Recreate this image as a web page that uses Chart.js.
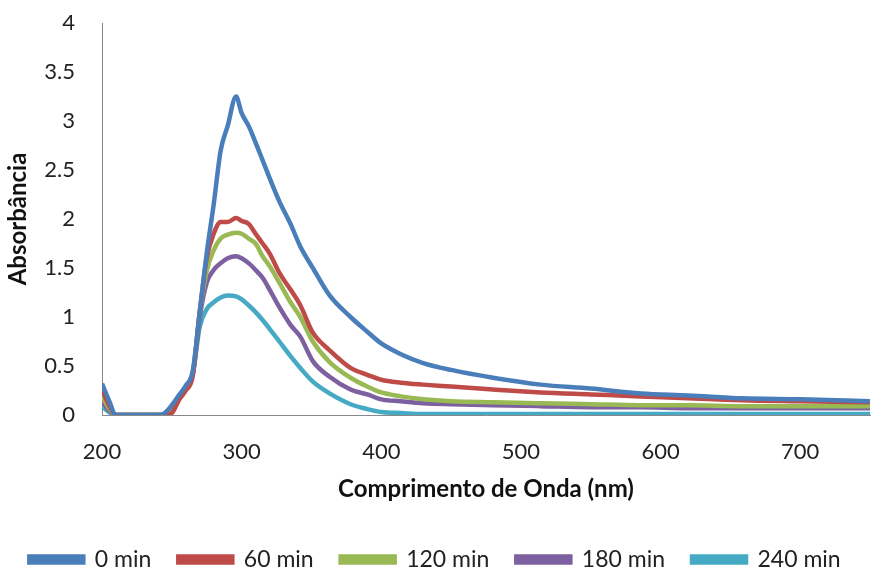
<!DOCTYPE html>
<html>
<head>
<meta charset="utf-8">
<script src="https://cdn.jsdelivr.net/npm/chart.js@4/dist/chart.umd.min.js"></script>
<style>
  html, body { margin: 0; padding: 0; background: #fff; }
  #chart { display: block; }
</style>
</head>
<body>
<canvas id="chart" width="871" height="572"></canvas>
<script>
const wavelengths = [200, 205, 210, 220, 240, 245, 250, 255, 260, 265, 270, 275, 280, 285, 290, 296, 300, 305, 310, 315, 320, 327, 335, 342, 351, 363, 378, 390, 400, 414, 430, 450, 480, 514, 550, 586, 620, 658, 700, 750];

const abs0 = [0.32, 0.15, 0, 0, 0, 0.02, 0.1, 0.2, 0.3, 0.45, 1.05, 1.65, 2.15, 2.7, 2.95, 3.25, 3.08, 2.95, 2.78, 2.6, 2.42, 2.18, 1.95, 1.72, 1.5, 1.22, 1.0, 0.85, 0.73, 0.62, 0.53, 0.46, 0.38, 0.31, 0.27, 0.22, 0.2, 0.17, 0.16, 0.14];
const abs60 = [0.26, 0.1, 0, 0, 0, 0, 0.02, 0.15, 0.25, 0.4, 1.05, 1.6, 1.85, 1.97, 1.97, 2.01, 1.98, 1.95, 1.85, 1.75, 1.65, 1.45, 1.28, 1.12, 0.84, 0.66, 0.48, 0.41, 0.36, 0.33, 0.31, 0.29, 0.26, 0.23, 0.21, 0.19, 0.17, 0.15, 0.14, 0.13];
const abs120 = [0.19, 0.07, 0, 0, 0, 0, 0.05, 0.17, 0.28, 0.42, 1.05, 1.47, 1.68, 1.8, 1.84, 1.86, 1.85, 1.8, 1.75, 1.62, 1.52, 1.35, 1.15, 1.0, 0.75, 0.54, 0.38, 0.29, 0.23, 0.19, 0.16, 0.14, 0.13, 0.12, 0.11, 0.1, 0.1, 0.09, 0.09, 0.09];
const abs180 = [0.14, 0.05, 0, 0, 0, 0, 0.07, 0.18, 0.28, 0.42, 1.0, 1.35, 1.48, 1.55, 1.6, 1.62, 1.6, 1.55, 1.48, 1.4, 1.28, 1.1, 0.92, 0.8, 0.55, 0.39, 0.26, 0.21, 0.16, 0.14, 0.12, 0.11, 0.1, 0.09, 0.08, 0.08, 0.07, 0.07, 0.07, 0.07];
const abs240 = [0.09, 0.03, 0, 0, 0, 0, 0.08, 0.18, 0.28, 0.42, 0.9, 1.08, 1.15, 1.2, 1.22, 1.21, 1.18, 1.12, 1.05, 0.97, 0.88, 0.75, 0.6, 0.48, 0.34, 0.22, 0.11, 0.06, 0.03, 0.02, 0.01, 0.01, 0.01, 0.01, 0.01, 0.01, 0.01, 0.01, 0.01, 0.01];

const seriesLabels = ["0 min", "60 min", "120 min", "180 min", "240 min"];
const seriesValues = [abs0, abs60, abs120, abs180, abs240];
const seriesColors = ["#4A7EBB", "#BE4B48", "#98B954", "#7D60A0", "#46AAC5"];

const fontFamily = "Lato, 'Open Sans', sans-serif";

const datasets = seriesLabels.map((label, i) => ({
  label: label,
  data: wavelengths.map((x, j) => ({ x: x, y: seriesValues[i][j] })),
  borderColor: seriesColors[i],
  backgroundColor: seriesColors[i],
  borderWidth: 4.5,
  pointRadius: 0,
  cubicInterpolationMode: "monotone",
  fill: false,
}));

new Chart(document.getElementById("chart").getContext("2d"), {
  type: "line",
  data: { datasets: datasets },
  options: {
    responsive: false,
    animation: false,
    layout: { padding: { top: 23, right: 1, left: 0, bottom: -9 } },
    scales: {
      x: {
        type: "linear",
        min: 200,
        max: 750,
        grid: { display: false, drawTicks: false },
        border: { color: "#888", width: 1 },
        // the last tick (750) is cut off in the original
        afterBuildTicks: (scale) => {
          scale.ticks = scale.ticks.filter((t) => t.value <= 700);
        },
        ticks: {
          stepSize: 100,
          padding: 24,
          color: "#222",
          font: { family: fontFamily, size: 22 },
        },
        title: {
          display: true,
          text: "Comprimento de Onda (nm)",
          color: "#111",
          font: { family: fontFamily, size: 24, weight: "bold" },
          padding: { top: 12, bottom: 17 },
        },
        afterFit: (scale) => { scale.height = 106; },
      },
      y: {
        min: 0,
        max: 4,
        grid: { display: false, drawTicks: false },
        border: { color: "#888", width: 1 },
        ticks: {
          stepSize: 0.5,
          padding: 27,
          color: "#222",
          font: { family: fontFamily, size: 22 },
          callback: (value) => String(value),
        },
        title: {
          display: true,
          text: "Absorbância",
          color: "#111",
          font: { family: fontFamily, size: 24, weight: "bold" },
          padding: { top: 4, bottom: 6 },
        },
        afterFit: (scale) => {
          scale.width = 102;
          scale.paddingTop = 0;
          scale.paddingBottom = 0;
        },
      },
    },
    plugins: {
      tooltip: { enabled: false },
      legend: {
        position: "bottom",
        labels: {
          boxWidth: 54,
          boxHeight: 6,
          padding: 27,
          color: "#222",
          font: { family: fontFamily, size: 23 },
        },
      },
    },
  },
});
</script>
</body>
</html>
